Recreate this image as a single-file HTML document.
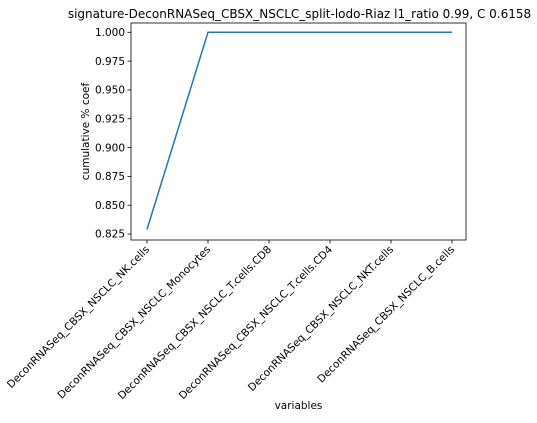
<!DOCTYPE html>
<html><head><meta charset="utf-8"><style>
body{margin:0;background:#fff;}
svg text{font-family:"DejaVu Sans","Liberation Sans",sans-serif;fill:#000;}
</style></head><body>
<svg id="chart" width="537" height="418" xmlns="http://www.w3.org/2000/svg"></svg>
<script>
const categories=["DeconRNASeq_CBSX_NSCLC_NK.cells","DeconRNASeq_CBSX_NSCLC_Monocytes","DeconRNASeq_CBSX_NSCLC_T.cells.CD8","DeconRNASeq_CBSX_NSCLC_T.cells.CD4","DeconRNASeq_CBSX_NSCLC_NKT.cells","DeconRNASeq_CBSX_NSCLC_B.cells"];
const values=[0.829,1.0,1.0,1.0,1.0,1.0];
const yTicks=[0.825,0.850,0.875,0.900,0.925,0.950,0.975,1.000];
const NS="http://www.w3.org/2000/svg";
const svg=document.getElementById('chart');
const L=131,R=466,T=23,B=240;
function x(i){return 147+i*(452-147)/(categories.length-1);}
function y(v){return 234+(0.825-v)*(201.7/0.175);}
function mk(t,a,txt){const e=document.createElementNS(NS,t);for(const k in a)e.setAttribute(k,a[k]);if(txt!==undefined)e.textContent=txt;svg.appendChild(e);return e;}
let e=mk('rect',{x:L,y:T,width:R-L,height:B-T,fill:'none',stroke:'#000','stroke-width':0.8});


yTicks.forEach(v=>{
 const t=mk('line',{x1:L-3.5,x2:L,y1:y(v),y2:y(v),stroke:'#000','stroke-width':0.8});
 
 
 const l=mk('text',{x:L-6,y:y(v)+3.7,'text-anchor':'end','font-size':'10.5px'},v.toFixed(3));
 
 
});
categories.forEach((c,i)=>{
 const t=mk('line',{x1:x(i),x2:x(i),y1:B,y2:B+3.5,stroke:'#000','stroke-width':0.8});
 
 
 const l=mk('text',{x:x(i)+3,y:B+10,'text-anchor':'end','font-size':'10.5px',transform:`rotate(-45 ${x(i)+3} ${B+10})`},c);
 
 
});
const pts=values.map((v,i)=>x(i)+','+y(v)).join(' ');
const line=mk('polyline',{points:pts,fill:'none',stroke:'#1f77b4','stroke-width':1.5});


e=mk('text',{x:(L+R)/2+1,y:18,'text-anchor':'middle','font-size':'12px'},'signature-DeconRNASeq_CBSX_NSCLC_split-lodo-Riaz l1_ratio 0.99, C 0.6158');


e=mk('text',{x:(L+R)/2,y:409,'text-anchor':'middle','font-size':'10.5px'},'variables');


e=mk('text',{x:89,y:(T+B)/2,'text-anchor':'middle','font-size':'10.5px',transform:`rotate(-90 89 ${(T+B)/2})`},'cumulative % coef');


</script>
</body></html>
